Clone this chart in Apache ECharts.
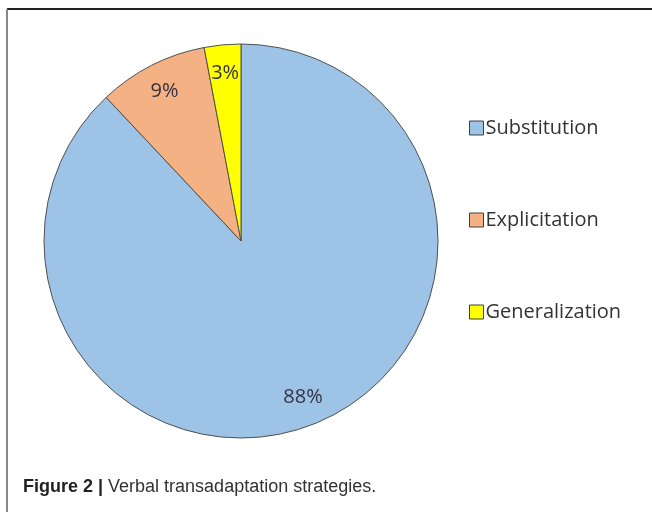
<!DOCTYPE html>
<html>
<head>
<meta charset="utf-8">
<script src="https://cdn.jsdelivr.net/npm/echarts@6/dist/echarts.min.js"></script>
<style>
html,body{margin:0;padding:0;background:#fff;}
#chart{width:652px;height:512px;}
</style>
</head>
<body>
<div id="chart"></div>
<script>
const categories = ['Substitution', 'Explicitation', 'Generalization'];
const values = [88, 9, 3];
const colors = ['#9DC3E6', '#F4B183', '#FFFF00'];
const caption = 'Verbal transadaptation strategies.';

const chart = echarts.init(document.getElementById('chart'));
const pieData = categories.map((c, i) => ({ name: c, value: values[i], itemStyle: { color: colors[i] } }));

chart.setOption({
  animation: false,
  backgroundColor: '#fff',
  legend: {
    orient: 'vertical',
    left: 464,
    top: 113,
    itemWidth: 14,
    itemHeight: 14,
    itemGap: 72,
    icon: 'rect',
    itemStyle: { borderColor: '#404040', borderWidth: 1 },
    textStyle: { fontFamily: 'Open Sans', fontSize: 20, color: '#333', padding: [0, 0, 0, -3] },
    data: categories
  },
  graphic: [
    { type: 'line', shape: { x1: 7, y1: 9, x2: 652, y2: 9 }, style: { stroke: '#222', lineWidth: 2 } },
    { type: 'line', shape: { x1: 7, y1: 9, x2: 7, y2: 512 }, style: { stroke: '#888', lineWidth: 2 } },
    {
      type: 'text', left: 23, top: 478,
      style: {
        text: '{b|Figure 2 |} ' + caption,
        rich: {
          b: { fontFamily: 'Liberation Sans', fontWeight: 'bold', fontSize: 18, fill: '#222' }
        },
        fontFamily: 'Liberation Sans', fontSize: 18, fill: '#333'
      }
    }
  ],
  series: [
    {
      type: 'pie',
      center: [241, 241],
      radius: [0, 197],
      startAngle: 90,
      clockwise: true,
      silent: true,
      label: { show: false },
      labelLine: { show: false },
      itemStyle: { borderColor: '#505050', borderWidth: 1 },
      data: pieData
    },
    {
      type: 'pie',
      center: [241, 241],
      radius: [134, 197],
      startAngle: 90,
      clockwise: true,
      silent: true,
      itemStyle: { color: 'rgba(0,0,0,0)', borderWidth: 0 },
      label: {
        show: true,
        position: 'inside',
        formatter: p => p.value + '%',
        fontFamily: 'Open Sans',
        fontSize: 20,
        color: '#333344'
      },
      labelLine: { show: false },
      data: categories.map((c, i) => ({ name: c, value: values[i] }))
    }
  ]
});
</script>
</body>
</html>
